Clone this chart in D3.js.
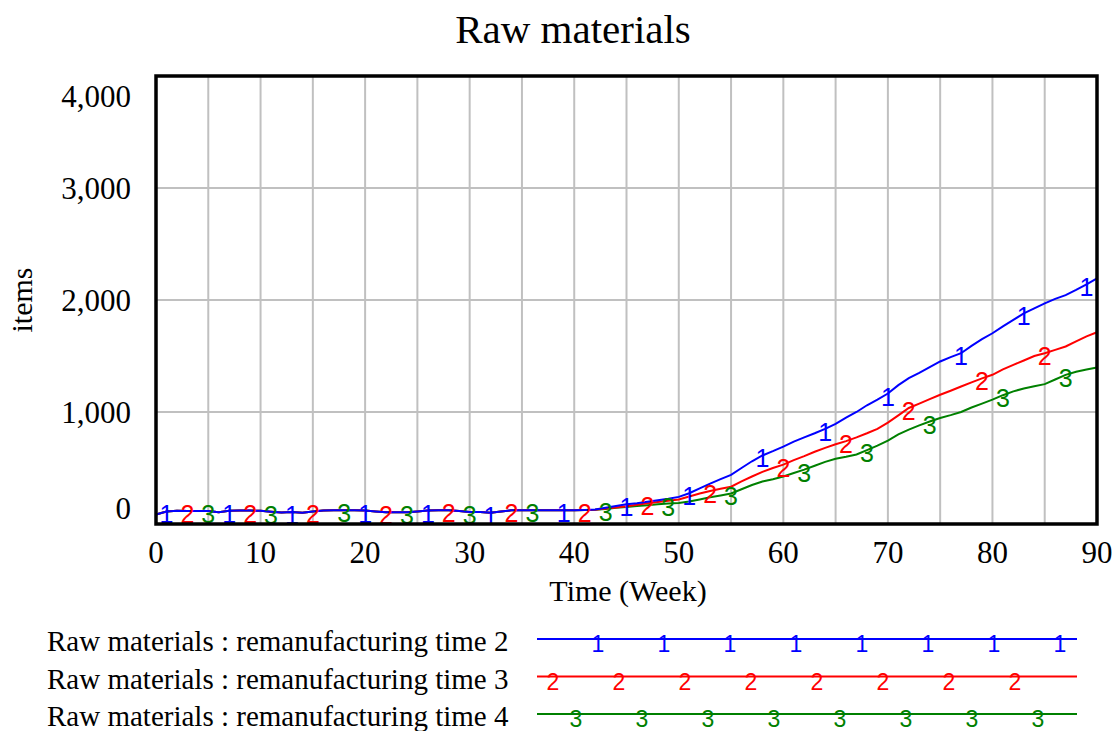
<!DOCTYPE html>
<html>
<head>
<meta charset="utf-8">
<script src="https://cdn.jsdelivr.net/npm/d3@7"></script>
<style>
  body { margin: 0; background: #fff; }
</style>
</head>
<body>
<svg id="chart"></svg>
<script>
// Raw materials, three remanufacturing times

const weeks = d3.range(0, 91);

const rawTime2 = [
  85, 112, 118, 115, 117, 116, 105, 118, 120, 120, 118, 110, 102, 108, 100, 112, 120, 122, 122, 122,
  120, 112, 105, 105, 106, 112, 120, 122, 122, 115, 108, 108, 100, 112, 122, 122, 122, 122, 122, 122,
  122, 125, 130, 145, 160, 176, 185, 198, 212, 225, 242, 275, 318, 360, 400, 439, 500, 560, 612, 650,
  691, 735, 773, 810, 850, 894, 950, 1000, 1060, 1110, 1165, 1240, 1303, 1350, 1400, 1451, 1490, 1525, 1590, 1650,
  1703, 1765, 1822, 1880, 1925, 1970, 2010, 2044, 2090, 2140, 2193
];

const rawTime3 = [
  85, 112, 118, 115, 117, 116, 105, 118, 120, 120, 118, 110, 102, 108, 100, 112, 120, 122, 122, 122,
  120, 112, 105, 105, 106, 112, 120, 122, 122, 115, 108, 108, 100, 112, 122, 122, 122, 122, 122, 122,
  122, 124, 128, 138, 148, 158, 172, 185, 197, 208, 218, 245, 273, 295, 315, 333, 380, 424, 465, 500,
  530, 570, 606, 645, 680, 712, 740, 773, 810, 850, 905, 970, 1036, 1075, 1115, 1154, 1190, 1228, 1265, 1300,
  1332, 1380, 1421, 1460, 1500, 1525, 1555, 1585, 1630, 1675, 1712
];

const rawTime4 = [
  85, 112, 118, 115, 117, 116, 105, 118, 120, 120, 118, 110, 102, 108, 100, 112, 120, 122, 122, 122,
  120, 112, 105, 105, 106, 112, 120, 122, 122, 115, 108, 108, 100, 112, 122, 122, 122, 122, 122, 122,
  122, 124, 128, 135, 145, 152, 160, 168, 176, 182, 188, 200, 218, 238, 255, 273, 310, 348, 380, 400,
  424, 455, 485, 520, 555, 582, 600, 621, 660, 700, 745, 800, 843, 880, 915, 947, 972, 1000, 1040, 1075,
  1110, 1150, 1184, 1210, 1230, 1249, 1290, 1332, 1360, 1380, 1398
];

// weeks where the series number is printed on the line
const marks2 = [1, 7, 13, 20, 26, 32, 39, 45, 51, 58, 64, 70, 77, 83, 89];
const marks3 = [3, 9, 15, 22, 28, 34, 41, 47, 53, 60, 66, 72, 79, 85];
const marks4 = [5, 11, 18, 24, 30, 36, 43, 49, 55, 62, 68, 74, 81, 87];

const seriesNames = [
  'Raw materials : remanufacturing time 2',
  'Raw materials : remanufacturing time 3',
  'Raw materials : remanufacturing time 4'
];
const seriesTags = ['1', '2', '3'];
const seriesColors = ['#0000ff', '#ff0000', '#008000'];

const yTicks = [0, 1000, 2000, 3000, 4000];
const xTicks = [0, 10, 20, 30, 40, 50, 60, 70, 80, 90];
const xGrid = d3.range(0, 91, 5);

const series = [
  { name: seriesNames[0], tag: seriesTags[0], color: seriesColors[0], values: rawTime2, marks: marks2 },
  { name: seriesNames[1], tag: seriesTags[1], color: seriesColors[1], values: rawTime3, marks: marks3 },
  { name: seriesNames[2], tag: seriesTags[2], color: seriesColors[2], values: rawTime4, marks: marks4 }
];

const width = 1113;
const height = 731;
const margin = { top: 76, right: 16, bottom: 207, left: 156 };
const plotW = width - margin.left - margin.right;
const plotH = height - margin.top - margin.bottom;

const serif = '"Liberation Serif", "Times New Roman", serif';
const sans = '"Liberation Sans", Arial, sans-serif';

const svg = d3.select('#chart')
  .attr('width', width)
  .attr('height', height);

const x = d3.scaleLinear().domain([0, 90]).range([0, plotW]);
const y = d3.scaleLinear().domain([0, 4000]).range([plotH, 0]);

const g = svg.append('g')
  .attr('transform', `translate(${margin.left},${margin.top})`);

// title
svg.append('text')
  .attr('x', 573)
  .attr('y', 43)
  .attr('text-anchor', 'middle')
  .style('font-family', serif)
  .style('font-size', '41px')
  .text('Raw materials');

// grid
g.append('g')
  .selectAll('line')
  .data(xGrid.filter(d => d > 0 && d < 90))
  .enter()
  .append('line')
  .attr('x1', d => x(d))
  .attr('x2', d => x(d))
  .attr('y1', 0)
  .attr('y2', plotH)
  .style('stroke', '#c0c0c0')
  .style('stroke-width', 2);

g.append('g')
  .selectAll('line')
  .data(yTicks.filter(d => d > 0 && d < 4000))
  .enter()
  .append('line')
  .attr('x1', 0)
  .attr('x2', plotW)
  .attr('y1', d => y(d))
  .attr('y2', d => y(d))
  .style('stroke', '#c0c0c0')
  .style('stroke-width', 2);

// y tick labels, the end ones pulled inside the frame
g.append('g')
  .selectAll('text')
  .data(yTicks)
  .enter()
  .append('text')
  .attr('x', -25)
  .attr('y', d => {
    if (d === 4000) return y(d) + 31;
    if (d === 0) return y(d) - 5;
    return y(d) + 11;
  })
  .attr('text-anchor', 'end')
  .style('font-family', serif)
  .style('font-size', '31px')
  .text(d => d3.format(',')(d));

// x tick labels
g.append('g')
  .selectAll('text')
  .data(xTicks)
  .enter()
  .append('text')
  .attr('x', d => x(d))
  .attr('y', plotH + 39)
  .attr('text-anchor', 'middle')
  .style('font-family', serif)
  .style('font-size', '31px')
  .text(d => d);

svg.append('text')
  .attr('x', 628)
  .attr('y', 601)
  .attr('text-anchor', 'middle')
  .style('font-family', serif)
  .style('font-size', '30px')
  .text('Time (Week)');

svg.append('text')
  .attr('transform', 'translate(32,300) rotate(-90)')
  .attr('text-anchor', 'middle')
  .style('font-family', serif)
  .style('font-size', '30px')
  .text('items');

// lines
const line = d3.line()
  .x((d, i) => x(weeks[i]))
  .y(d => y(d));

const drawOrder = [2, 1, 0];
drawOrder.forEach(k => {
  const s = series[k];
  g.append('path')
    .datum(s.values)
    .attr('d', line)
    .style('fill', 'none')
    .style('stroke', s.color)
    .style('stroke-width', 2);
});

// number markers on the lines
drawOrder.forEach(k => {
  const s = series[k];
  g.append('g')
    .selectAll('text')
    .data(s.marks)
    .enter()
    .append('text')
    .attr('x', d => x(d))
    .attr('y', d => y(s.values[weeks.indexOf(d)]) + 12)
    .attr('text-anchor', 'middle')
    .style('font-family', sans)
    .style('font-size', '25px')
    .style('fill', s.color)
    .text(s.tag);
});

// frame
g.append('rect')
  .attr('x', 0)
  .attr('y', 0)
  .attr('width', plotW)
  .attr('height', plotH)
  .style('fill', 'none')
  .style('stroke', '#000')
  .style('stroke-width', 3.5);

// legend
const legendTop = 651;
const legendGap = 37.5;
const legendStarts = [598, 553, 576];

series.forEach((s, i) => {
  const by = legendTop + i * legendGap;
  const ly = by - 12;
  svg.append('text')
    .attr('x', 47)
    .attr('y', by)
    .style('font-family', serif)
    .style('font-size', '29px')
    .text(s.name);

  svg.append('line')
    .attr('x1', 537)
    .attr('x2', 1077)
    .attr('y1', ly)
    .attr('y2', ly)
    .style('stroke', s.color)
    .style('stroke-width', 2);

  svg.append('g')
    .selectAll('text')
    .data(d3.range(8))
    .enter()
    .append('text')
    .attr('x', j => legendStarts[i] + j * 66)
    .attr('y', ly + 13)
    .attr('text-anchor', 'middle')
    .style('font-family', sans)
    .style('font-size', '23px')
    .style('fill', s.color)
    .text(s.tag);
});
</script>
</body>
</html>
